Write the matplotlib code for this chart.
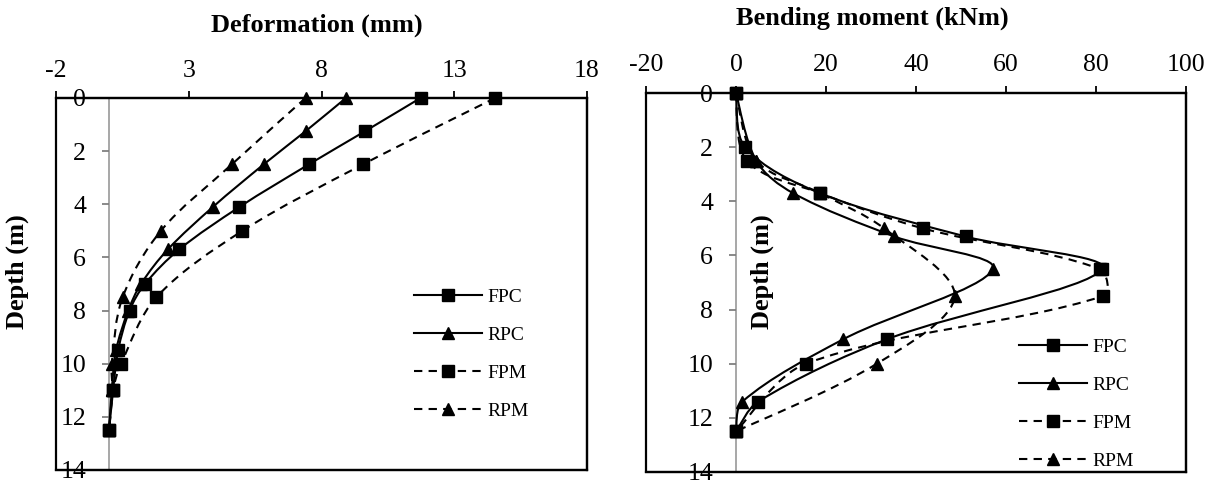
import matplotlib
matplotlib.use('Agg')
import matplotlib.pyplot as plt
from matplotlib.path import Path
from matplotlib.patches import PathPatch, Rectangle
from matplotlib.lines import Line2D
import numpy as np

plt.rcParams['font.family'] = ['Liberation Serif', 'DejaVu Serif']
plt.rcParams['axes.unicode_minus'] = False

# deformation chart (mm vs depth m)
def_fpc_depth = [0, 1.25, 2.5, 4.1, 5.7, 7, 8, 9.5, 11, 12.5]
def_fpc = [11.73, 9.64, 7.52, 4.91, 2.64, 1.35, 0.77, 0.34, 0.15, 0]
def_rpc_depth = [0, 1.25, 2.5, 4.1, 5.7, 7, 8, 9.5, 11, 12.5]
def_rpc = [8.92, 7.40, 5.82, 3.91, 2.21, 1.20, 0.72, 0.26, 0.10, 0]
def_fpm_depth = [0, 2.5, 5, 7.5, 10, 11, 12.5]
def_fpm = [14.54, 9.56, 5.02, 1.78, 0.45, 0.15, 0]
def_rpm_depth = [0, 2.5, 5, 7.5, 10, 11, 12.5]
def_rpm = [7.40, 4.62, 1.95, 0.51, 0.10, 0.12, 0]

# bending moment chart (kNm vs depth m)
bm_fpc_depth = [0, 2, 3.7, 5.3, 6.5, 9.1, 11.4, 12.5]
bm_fpc = [0, 2.0, 18.7, 51.0, 81.4, 33.5, 4.9, 0]
bm_rpc_depth = [0, 2.5, 3.7, 5.3, 6.5, 9.1, 11.4, 12.5]
bm_rpc = [0, 4.5, 12.7, 35.2, 57.1, 23.8, 1.4, 0]
bm_fpm_depth = [0, 2.5, 3.7, 5, 6.5, 7.5, 10, 12.5]
bm_fpm = [0, 2.4, 18.7, 41.5, 80.8, 81.6, 15.5, 0]
bm_rpm_depth = [0, 2.5, 3.7, 5, 7.5, 10, 12.5]
bm_rpm = [0, 4.5, 18.7, 32.9, 48.6, 31.3, 0]

labels = ['FPC', 'RPC', 'FPM', 'RPM']
markers = ['s', '^', 's', '^']
styles = ['-', '-', (0, (4, 3)), (0, (4, 3))]
GRAY = '#a0a0a0'


def smooth_path(xs, ys, sx, sy):
    # excel style smoothed line, bezier through the points (worked out in pixels)
    pts = np.column_stack([np.asarray(xs) * sx, np.asarray(ys) * sy]).astype(float)
    n = len(pts)
    verts = [pts[0]]
    codes = [Path.MOVETO]
    for i in range(n - 1):
        p1, p2 = pts[i], pts[i + 1]
        d12 = np.hypot(*(p2 - p1))
        if i > 0:
            p0 = pts[i - 1]
            d01 = np.hypot(*(p1 - p0))
            c1 = p1 + (p2 - p0) * d12 / (d01 + d12) / 3
        else:
            c1 = p1 + (p2 - p1) / 6
        if i + 2 < n:
            p3 = pts[i + 2]
            d23 = np.hypot(*(p3 - p2))
            c2 = p2 - (p3 - p1) * d12 / (d12 + d23) / 3
        else:
            c2 = p2 - (p2 - p1) / 6
        verts += [c1, c2, p2]
        codes += [Path.CURVE4] * 3
    verts = np.array(verts) / [sx, sy]
    return Path(verts, codes)


def draw(ax, series, xlim, xticks, title, title_xy, ylab_xy, xpad):
    bb = ax.get_position()
    sx = bb.width * 1211 / (xlim[1] - xlim[0])
    sy = bb.height * 482 / 14
    for (x, d), lab, m, ls in zip(series, labels, markers, styles):
        ax.add_patch(PathPatch(smooth_path(x, d, sx, sy), fill=False, ec='k',
                               lw=1.5, ls=ls, zorder=4, clip_on=False))
        ax.plot(x, d, ls='none', marker=m, ms=8 if m == 's' else 8.5, color='k',
                zorder=5, clip_on=False)
    ax.set_xlim(xlim)
    ax.set_ylim(14, 0)
    ax.set_xticks(xticks)
    ax.set_yticks(range(0, 15, 2))
    ax.xaxis.set_ticks_position('top')
    ax.xaxis.set_label_position('top')
    ax.spines['left'].set_position(('data', 0))
    ax.spines['left'].set_color(GRAY)
    ax.spines['left'].set_linewidth(1.3)
    ax.spines['left'].set_zorder(1)
    for s in ['top', 'right', 'bottom']:
        ax.spines[s].set_linewidth(1.6)
    ax.add_patch(Rectangle((0, 0), 1, 1, transform=ax.transAxes, fill=False,
                           lw=1.6, ec='k', clip_on=False, zorder=3))
    ax.tick_params(axis='x', direction='out', length=5, width=1.3, pad=xpad,
                   labelsize=18.5)
    ax.tick_params(axis='y', direction='out', length=5, width=1.3, pad=11.5,
                   labelsize=18.5, color='#808080')
    ax.set_xlabel(title, fontsize=19, fontweight='bold')
    ax.xaxis.set_label_coords(*title_xy)
    ax.set_ylabel('Depth (m)', fontsize=19, fontweight='bold')
    ax.yaxis.set_label_coords(*ylab_xy)


def add_legend(ax, anchor):
    handles = [Line2D([], [], color='k', lw=1.5, ls=ls, marker=m, ms=8)
               for m, ls in zip(markers, styles)]
    ax.legend(handles, labels, loc='upper left', bbox_to_anchor=anchor,
              bbox_transform=ax.figure.transFigure, frameon=False, fontsize=14,
              handlelength=3.5, handletextpad=0.3, labelspacing=1.05,
              borderpad=0, borderaxespad=0)


fig = plt.figure(figsize=(12.11, 4.82), dpi=100)
W, H = 1211, 482
ax1 = fig.add_axes([56 / W, 1 - 470 / H, 531 / W, 372 / H])
ax2 = fig.add_axes([646 / W, 1 - 472 / H, 540 / W, 379 / H])

draw(ax1, [(def_fpc, def_fpc_depth), (def_rpc, def_rpc_depth),
           (def_fpm, def_fpm_depth), (def_rpm, def_rpm_depth)],
     (-2, 18), [-2, 3, 8, 13, 18], 'Deformation (mm)',
     (0.4915, 1.178), (-0.051, 0.532), 6.5)
draw(ax2, [(bm_fpc, bm_fpc_depth), (bm_rpc, bm_rpc_depth),
           (bm_fpm, bm_fpm_depth), (bm_rpm, bm_rpm_depth)],
     (-20, 100), list(range(-20, 101, 20)), 'Bending moment (kNm)',
     (0.42, 1.18), (0.237, 0.528), 7)

add_legend(ax1, (414 / W, 1 - 288 / H))
add_legend(ax2, (1019 / W, 1 - 338 / H))

fig.savefig('out.png', dpi=100)
